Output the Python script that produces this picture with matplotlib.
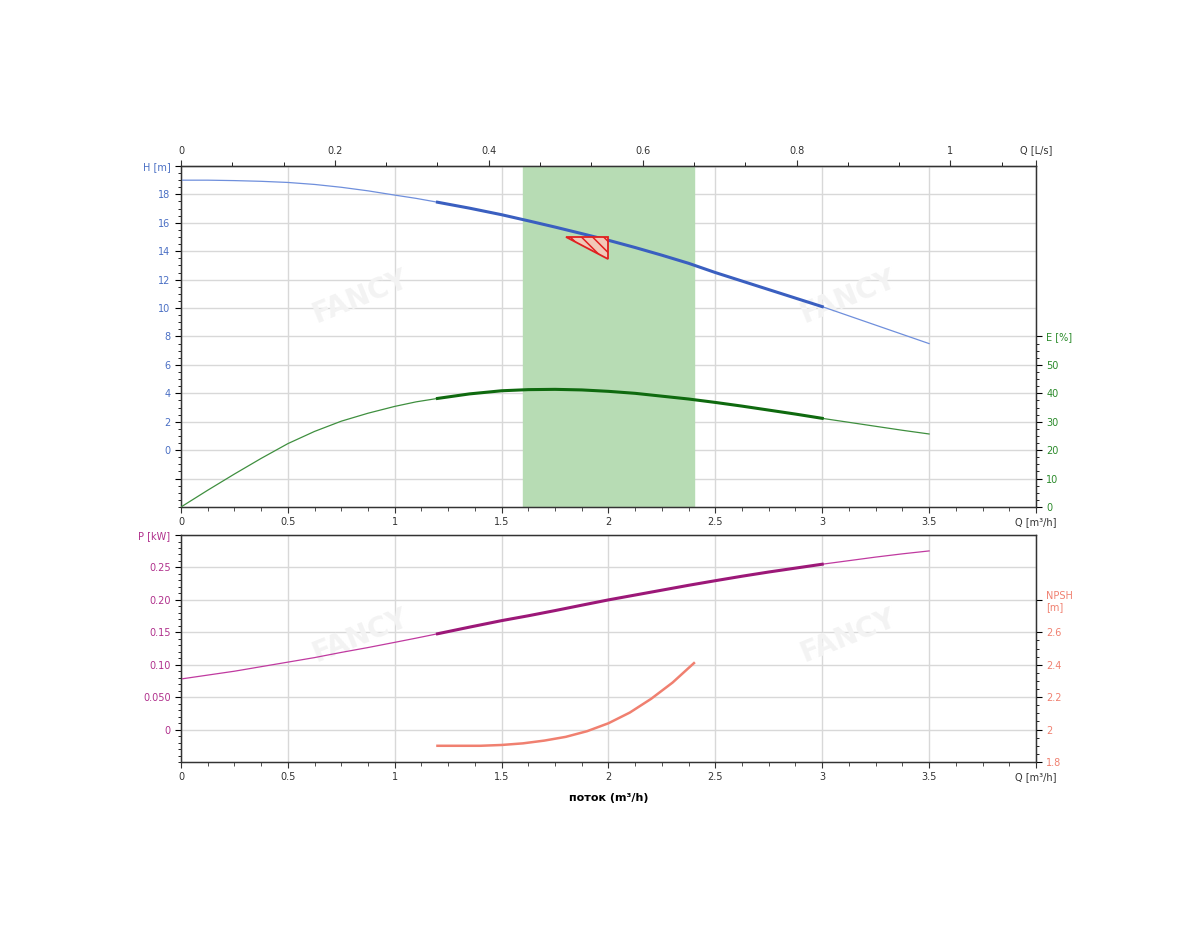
import numpy as np
import matplotlib
matplotlib.use('Agg')
import matplotlib.pyplot as plt
from matplotlib.ticker import MultipleLocator, FixedLocator

# flow points (m3/h)
q = [0, 0.125, 0.25, 0.375, 0.5, 0.625, 0.75, 0.875, 1.0, 1.1, 1.2, 1.35, 1.5, 1.625, 1.75,
     1.875, 2.0, 2.125, 2.25, 2.375, 2.5, 2.625, 2.75, 2.875, 3.0, 3.125, 3.25, 3.375, 3.5]
head = [19.0, 19.0, 18.97, 18.92, 18.84, 18.7, 18.5, 18.25, 17.95, 17.72, 17.45, 17.03, 16.57, 16.14, 15.7,
        15.24, 14.77, 14.26, 13.72, 13.15, 12.5, 11.9, 11.3, 10.7, 10.1, 9.45, 8.8, 8.15, 7.5]
eff = [0, 5.9, 11.6, 17.1, 22.3, 26.6, 30.2, 33.0, 35.4, 37.0, 38.2, 39.8, 40.9, 41.3, 41.4,
       41.2, 40.7, 40.0, 39.0, 38.0, 36.8, 35.5, 34.1, 32.7, 31.2, 29.8, 28.4, 27.0, 25.7]
power = [0.078, 0.084, 0.090, 0.097, 0.104, 0.111, 0.119, 0.1265, 0.1345, 0.141, 0.1477, 0.158, 0.168, 0.1755, 0.1835,
         0.1918, 0.200, 0.2075, 0.215, 0.2225, 0.2296, 0.2365, 0.243, 0.249, 0.255, 0.2605, 0.266, 0.271, 0.2755]

q_npsh = [1.2, 1.3, 1.4, 1.5, 1.6, 1.7, 1.8, 1.9, 2.0, 2.1, 2.2, 2.3, 2.4]
npsh = [1.90, 1.90, 1.90, 1.905, 1.915, 1.932, 1.955, 1.99, 2.039, 2.105, 2.19, 2.29, 2.41]

# working range and recommended band
q_work = (1.2, 3.0)
band = (1.6, 2.4)
# duty point triangle
tri_q = [1.8, 2.0, 2.0]
tri_h = [15.0, 15.0, 13.45]

x_ticks = [0, 0.5, 1, 1.5, 2, 2.5, 3, 3.5, 4]
x_labels = ['0', '0.5', '1', '1.5', '2', '2.5', '3', '3.5', 'Q [m³/h]']

c_h = '#4a6fc4'
c_e = '#2a8a2a'
c_p = '#b0308c'
c_n = '#f08070'
grid_c = '#d8d8d8'

plt.rcParams['hatch.color'] = '#e02020'
plt.rcParams['hatch.linewidth'] = 1.1

q = np.array(q)
thick = (q >= q_work[0]) & (q <= q_work[1])

fig = plt.figure(figsize=(12, 9.5), dpi=100)
ax1 = fig.add_axes([0.1508, 0.4663, 0.7125, 0.359])
ax2 = fig.add_axes([0.1508, 0.1979, 0.7125, 0.2389])


def style_x(ax):
    ax.set_xlim(0, 4)
    ax.set_xticks(x_ticks)
    ax.set_xticklabels(x_labels)
    ax.xaxis.set_minor_locator(MultipleLocator(0.125))
    ax.tick_params(axis='x', labelsize=7, colors='#333333', length=4, width=0.8)
    ax.tick_params(axis='x', which='minor', length=3, color='#333333')
    ax.grid(True, color=grid_c, lw=1)
    ax.set_axisbelow(True)
    for s in ax.spines.values():
        s.set_color('#333333')
        s.set_linewidth(1)


# ---- top: head and efficiency ----
style_x(ax1)
ax1.set_ylim(-4, 20)
ax1.set_yticks(list(range(-2, 21, 2)))
ax1.set_yticklabels([''] + [str(v) for v in range(0, 20, 2)] + ['H [m]'])
ax1.yaxis.set_minor_locator(MultipleLocator(0.5))
ax1.tick_params(axis='y', labelsize=7, labelcolor=c_h, length=4)
ax1.tick_params(axis='y', which='minor', length=2)

ax1.axvspan(band[0], band[1], color='#b7dcb4', zorder=1)
ax1.plot(q, head, color='#6f8fdc', lw=0.9, zorder=3)
ax1.plot(q[thick], np.array(head)[thick], color='#3a5fc0', lw=2.2, zorder=4)
ax1.fill(tri_q, tri_h, facecolor='#f2c8b8', edgecolor='#e02020', hatch='\\\\\\', lw=1.3, zorder=5)

ax1e = ax1.twinx()
ax1e.set_ylim(0, 120)
ax1e.set_yticks([0, 10, 20, 30, 40, 50, 60])
ax1e.set_yticklabels(['0', '10', '20', '30', '40', '50', 'E [%]'])
ax1e.yaxis.set_minor_locator(FixedLocator(np.arange(0, 60, 2.5)))
ax1e.tick_params(axis='y', labelsize=7, labelcolor=c_e, length=4)
ax1e.tick_params(axis='y', which='minor', length=2)
ax1e.plot(q, eff, color='#3f8f3f', lw=0.9, zorder=3)
ax1e.plot(q[thick], np.array(eff)[thick], color='#0f6a0f', lw=2.2, zorder=4)
for s in ax1e.spines.values():
    s.set_color('#333333')

top = ax1.secondary_xaxis('top', functions=(lambda x: x / 3.6, lambda x: x * 3.6))
top.set_xticks([0, 0.2, 0.4, 0.6, 0.8, 1.0, 4 / 3.6])
top.set_xticklabels(['0', '0.2', '0.4', '0.6', '0.8', '1', 'Q [L/s]'])
top.xaxis.set_minor_locator(MultipleLocator(1 / 15))
top.tick_params(axis='x', labelsize=7, colors='#333333', length=4)
top.tick_params(axis='x', which='minor', length=3)

# watermarks
for wx, wy in [(0.84, 10.8), (3.12, 10.8)]:
    ax1.text(wx, wy, 'FANCY', fontsize=20, fontweight='bold', color='#f3f3f3',
             rotation=22, ha='center', va='center', zorder=2)

# ---- bottom: power and NPSH ----
style_x(ax2)
ax2.set_ylim(-0.05, 0.30)
ax2.set_yticks([0, 0.05, 0.10, 0.15, 0.20, 0.25, 0.30])
ax2.set_yticklabels(['0', '0.050', '0.10', '0.15', '0.20', '0.25', 'P [kW]'])
ax2.yaxis.set_minor_locator(MultipleLocator(0.01))
ax2.tick_params(axis='y', labelsize=7, labelcolor=c_p, length=4)
ax2.tick_params(axis='y', which='minor', length=2)
ax2.plot(q, power, color='#c03aa0', lw=0.9, zorder=3)
ax2.plot(q[thick], np.array(power)[thick], color='#9c1878', lw=2.2, zorder=4)

ax2n = ax2.twinx()
ax2n.set_ylim(1.8, 3.2)
ax2n.set_yticks([1.8, 2.0, 2.2, 2.4, 2.6, 2.8])
ax2n.set_yticklabels(['1.8', '2', '2.2', '2.4', '2.6', 'NPSH\n[m]'])
ax2n.yaxis.set_minor_locator(FixedLocator(np.arange(1.8, 2.6, 0.05)))
ax2n.tick_params(axis='y', labelsize=7, labelcolor=c_n, length=4)
ax2n.tick_params(axis='y', which='minor', length=2)
ax2n.plot(q_npsh, npsh, color=c_n, lw=1.8, zorder=3)
for s in ax2n.spines.values():
    s.set_color('#333333')

ax2.text(2.0, -0.105, 'поток (m³/h)', fontsize=8, fontweight='bold', ha='center', va='center')

for wx, wy in [(0.84, 0.145), (3.12, 0.145)]:
    ax2.text(wx, wy, 'FANCY', fontsize=20, fontweight='bold', color='#f3f3f3',
             rotation=22, ha='center', va='center', zorder=2)

fig.savefig('out.png', dpi=100)
